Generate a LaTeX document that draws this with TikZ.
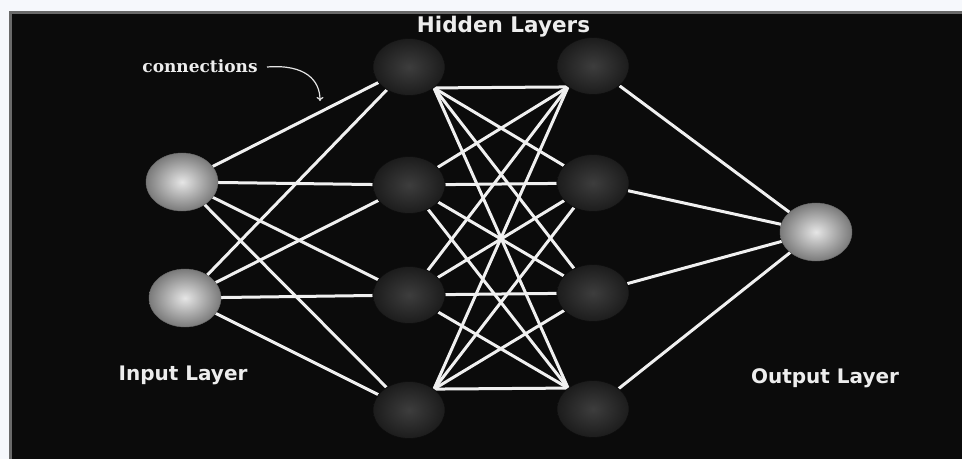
\documentclass[tikz,border=0pt]{standalone}
\usepackage{fontspec}
\setmainfont{DejaVu Sans}
\newfontfamily\conffont[BoldFont={DejaVu Serif Bold}]{DejaVu Serif}
\usetikzlibrary{shapes.geometric,arrows.meta}
\definecolor{bgblack}{HTML}{0B0B0B}
\definecolor{framegray}{HTML}{6A6A6A}
\definecolor{outside}{HTML}{F6F8FC}
\definecolor{linewhite}{HTML}{F0F0F0}
\pgfdeclarelayer{back}
\pgfdeclarelayer{lines}
\pgfsetlayers{back,lines,main}
\tikzset{
  hid/.style={ellipse, minimum width=72pt, minimum height=57pt, inner sep=0pt,
    shading=radial, inner color=black!76, outer color=black!89, draw=black!95, line width=0.6pt},
  io/.style={ellipse, minimum width=72pt, minimum height=58pt, inner sep=0pt,
    shading=radial, inner color=white!90!black, outer color=black!52, draw=black!58, line width=0.4pt},
  conn/.style={draw=linewhite, line width=3pt},
  lbl/.style={text=white!93!black, font=\bfseries\fontsize{20}{21}\selectfont, anchor=base, inner sep=0pt}
}
\begin{document}
\begin{tikzpicture}[x=1pt,y=-1pt]
\useasboundingbox (0,0) rectangle (962,459);
\begin{pgfonlayer}{back}
\fill[outside] (0,0) rectangle (962,459);
\fill[framegray] (9,11) rectangle (962,459);
\fill[bgblack] (12,14) rectangle (962,459);
\end{pgfonlayer}

% input layer
\node[io] (i1) at (182,182) {};
\node[io] (i2) at (185,298) {};
% hidden layer 1
\node[hid] (a1) at (409,67) {};
\node[hid] (a2) at (409,185) {};
\node[hid] (a3) at (409,295) {};
\node[hid] (a4) at (409,410) {};
% hidden layer 2
\node[hid] (b1) at (593,66) {};
\node[hid] (b2) at (593,183) {};
\node[hid] (b3) at (593,293) {};
\node[hid] (b4) at (593,409) {};
% output
\node[io] (o) at (816,232) {};

% labels
\node[lbl, font=\bfseries\fontsize{21.5}{22}\selectfont] (th) at (503.5,32) {Hidden Layers};
\node[lbl] (ti) at (183,380) {Input Layer};
\node[lbl] (to) at (825,383) {Output Layer};
\node[text=white!93!black, font=\conffont\bfseries\fontsize{17}{18}\selectfont, anchor=base, inner sep=0pt] (tc) at (200,72) {connections};
\coordinate (ctip) at (320,101);
\draw[white!90!black, line width=1.2pt, -{To[length=4pt,width=7pt]}]
  (267,67) .. controls (305,64) and (320,80) .. (ctip);

\begin{pgfonlayer}{lines}
% input -> hidden 1
\foreach \s in {i1,i2}{
  \draw[conn] (\s) -- (a1);
  \draw[conn] (\s) -- (a2);
  \draw[conn] (\s) -- (a3);
  \draw[conn] (\s) -- (a4);
}
% hidden 1 -> hidden 2
\foreach \s/\t in {a1.-40/b1.-140, a1.-40/b2, a1.-40/b3, a1.-40/b4.140,
                   a2/b1.-140, a2/b2, a2/b3, a2/b4.140,
                   a3/b1.-140, a3/b2, a3/b3, a3/b4.140,
                   a4.40/b1.-140, a4.40/b2, a4.40/b3, a4.40/b4.140}{
  \draw[conn] (\s) -- (\t);
}
% hidden 2 -> output
\foreach \s in {b1,b2,b3,b4}{
  \draw[conn] (\s) -- (o);
}
\end{pgfonlayer}
\end{tikzpicture}
\end{document}
